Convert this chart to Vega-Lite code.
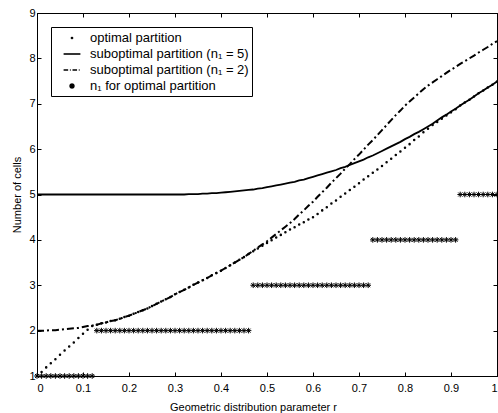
{
  "$schema": "https://vega.github.io/schema/vega-lite/v6.json",
  "width": 460,
  "height": 363,
  "autosize": {"type": "none"},
  "padding": {"left": 37, "top": 13, "right": 1, "bottom": 37},
  "background": "white",
  "config": {
    "view": {"stroke": "black", "strokeWidth": 1},
    "axis": {
      "grid": false,
      "domainColor": "black",
      "tickColor": "black",
      "labelColor": "black",
      "titleColor": "black",
      "labelFont": "Liberation Sans",
      "titleFont": "Liberation Sans",
      "labelFontSize": 11,
      "titleFontSize": 11,
      "titleFontWeight": "normal",
      "tickSize": -4
    },
    "legend": {
      "labelFont": "Liberation Sans",
      "labelFontSize": 13,
      "labelColor": "black"
    }
  },
  "data": {
    "values": [
      {"r": 0.00, "opt": 1.00, "s5": 5.00, "s2": 2.00, "n1": 1},
      {"r": 0.01, "opt": 1.09, "s5": 5.00, "s2": 2.00, "n1": 1},
      {"r": 0.02, "opt": 1.19, "s5": 5.00, "s2": 2.00, "n1": 1},
      {"r": 0.03, "opt": 1.28, "s5": 5.00, "s2": 2.01, "n1": 1},
      {"r": 0.04, "opt": 1.37, "s5": 5.00, "s2": 2.01, "n1": 1},
      {"r": 0.05, "opt": 1.47, "s5": 5.00, "s2": 2.02, "n1": 1},
      {"r": 0.06, "opt": 1.56, "s5": 5.00, "s2": 2.03, "n1": 1},
      {"r": 0.07, "opt": 1.65, "s5": 5.00, "s2": 2.04, "n1": 1},
      {"r": 0.08, "opt": 1.74, "s5": 5.00, "s2": 2.05, "n1": 1},
      {"r": 0.09, "opt": 1.84, "s5": 5.00, "s2": 2.06, "n1": 1},
      {"r": 0.10, "opt": 1.93, "s5": 5.00, "s2": 2.08, "n1": 1},
      {"r": 0.11, "opt": 2.02, "s5": 5.00, "s2": 2.10, "n1": 1},
      {"r": 0.12, "opt": 2.10, "s5": 5.00, "s2": 2.11, "n1": 1},
      {"r": 0.13, "opt": 2.13, "s5": 5.00, "s2": 2.13, "n1": 2},
      {"r": 0.14, "opt": 2.16, "s5": 5.00, "s2": 2.16, "n1": 2},
      {"r": 0.15, "opt": 2.18, "s5": 5.00, "s2": 2.18, "n1": 2},
      {"r": 0.16, "opt": 2.21, "s5": 5.00, "s2": 2.21, "n1": 2},
      {"r": 0.17, "opt": 2.23, "s5": 5.00, "s2": 2.23, "n1": 2},
      {"r": 0.18, "opt": 2.26, "s5": 5.00, "s2": 2.26, "n1": 2},
      {"r": 0.19, "opt": 2.30, "s5": 5.00, "s2": 2.30, "n1": 2},
      {"r": 0.20, "opt": 2.33, "s5": 5.00, "s2": 2.33, "n1": 2},
      {"r": 0.21, "opt": 2.37, "s5": 5.00, "s2": 2.37, "n1": 2},
      {"r": 0.22, "opt": 2.41, "s5": 5.00, "s2": 2.41, "n1": 2},
      {"r": 0.23, "opt": 2.45, "s5": 5.00, "s2": 2.45, "n1": 2},
      {"r": 0.24, "opt": 2.49, "s5": 5.00, "s2": 2.49, "n1": 2},
      {"r": 0.25, "opt": 2.54, "s5": 5.00, "s2": 2.54, "n1": 2},
      {"r": 0.26, "opt": 2.59, "s5": 5.00, "s2": 2.59, "n1": 2},
      {"r": 0.27, "opt": 2.64, "s5": 5.00, "s2": 2.64, "n1": 2},
      {"r": 0.28, "opt": 2.69, "s5": 5.00, "s2": 2.69, "n1": 2},
      {"r": 0.29, "opt": 2.74, "s5": 5.00, "s2": 2.74, "n1": 2},
      {"r": 0.30, "opt": 2.80, "s5": 5.00, "s2": 2.80, "n1": 2},
      {"r": 0.31, "opt": 2.85, "s5": 5.00, "s2": 2.85, "n1": 2},
      {"r": 0.32, "opt": 2.90, "s5": 5.00, "s2": 2.90, "n1": 2},
      {"r": 0.33, "opt": 2.95, "s5": 5.01, "s2": 2.95, "n1": 2},
      {"r": 0.34, "opt": 3.01, "s5": 5.01, "s2": 3.01, "n1": 2},
      {"r": 0.35, "opt": 3.06, "s5": 5.01, "s2": 3.06, "n1": 2},
      {"r": 0.36, "opt": 3.11, "s5": 5.02, "s2": 3.11, "n1": 2},
      {"r": 0.37, "opt": 3.16, "s5": 5.02, "s2": 3.16, "n1": 2},
      {"r": 0.38, "opt": 3.22, "s5": 5.03, "s2": 3.22, "n1": 2},
      {"r": 0.39, "opt": 3.27, "s5": 5.03, "s2": 3.27, "n1": 2},
      {"r": 0.40, "opt": 3.32, "s5": 5.04, "s2": 3.32, "n1": 2},
      {"r": 0.41, "opt": 3.38, "s5": 5.05, "s2": 3.38, "n1": 2},
      {"r": 0.42, "opt": 3.44, "s5": 5.06, "s2": 3.44, "n1": 2},
      {"r": 0.43, "opt": 3.50, "s5": 5.07, "s2": 3.50, "n1": 2},
      {"r": 0.44, "opt": 3.56, "s5": 5.08, "s2": 3.56, "n1": 2},
      {"r": 0.45, "opt": 3.62, "s5": 5.09, "s2": 3.62, "n1": 2},
      {"r": 0.46, "opt": 3.69, "s5": 5.10, "s2": 3.69, "n1": 2},
      {"r": 0.47, "opt": 3.75, "s5": 5.11, "s2": 3.76, "n1": 3},
      {"r": 0.48, "opt": 3.81, "s5": 5.13, "s2": 3.83, "n1": 3},
      {"r": 0.49, "opt": 3.87, "s5": 5.14, "s2": 3.90, "n1": 3},
      {"r": 0.50, "opt": 3.93, "s5": 5.16, "s2": 3.97, "n1": 3},
      {"r": 0.51, "opt": 3.99, "s5": 5.18, "s2": 4.05, "n1": 3},
      {"r": 0.52, "opt": 4.05, "s5": 5.20, "s2": 4.13, "n1": 3},
      {"r": 0.53, "opt": 4.11, "s5": 5.22, "s2": 4.21, "n1": 3},
      {"r": 0.54, "opt": 4.17, "s5": 5.24, "s2": 4.29, "n1": 3},
      {"r": 0.55, "opt": 4.23, "s5": 5.26, "s2": 4.37, "n1": 3},
      {"r": 0.56, "opt": 4.28, "s5": 5.28, "s2": 4.46, "n1": 3},
      {"r": 0.57, "opt": 4.34, "s5": 5.31, "s2": 4.56, "n1": 3},
      {"r": 0.58, "opt": 4.39, "s5": 5.33, "s2": 4.65, "n1": 3},
      {"r": 0.59, "opt": 4.45, "s5": 5.36, "s2": 4.75, "n1": 3},
      {"r": 0.60, "opt": 4.50, "s5": 5.39, "s2": 4.84, "n1": 3},
      {"r": 0.61, "opt": 4.57, "s5": 5.42, "s2": 4.95, "n1": 3},
      {"r": 0.62, "opt": 4.65, "s5": 5.45, "s2": 5.05, "n1": 3},
      {"r": 0.63, "opt": 4.72, "s5": 5.48, "s2": 5.15, "n1": 3},
      {"r": 0.64, "opt": 4.80, "s5": 5.51, "s2": 5.26, "n1": 3},
      {"r": 0.65, "opt": 4.87, "s5": 5.54, "s2": 5.36, "n1": 3},
      {"r": 0.66, "opt": 4.95, "s5": 5.58, "s2": 5.46, "n1": 3},
      {"r": 0.67, "opt": 5.02, "s5": 5.61, "s2": 5.57, "n1": 3},
      {"r": 0.68, "opt": 5.10, "s5": 5.65, "s2": 5.67, "n1": 3},
      {"r": 0.69, "opt": 5.17, "s5": 5.69, "s2": 5.78, "n1": 3},
      {"r": 0.70, "opt": 5.25, "s5": 5.73, "s2": 5.88, "n1": 3},
      {"r": 0.71, "opt": 5.33, "s5": 5.77, "s2": 5.99, "n1": 3},
      {"r": 0.72, "opt": 5.40, "s5": 5.82, "s2": 6.10, "n1": 3},
      {"r": 0.73, "opt": 5.48, "s5": 5.86, "s2": 6.20, "n1": 4},
      {"r": 0.74, "opt": 5.55, "s5": 5.91, "s2": 6.31, "n1": 4},
      {"r": 0.75, "opt": 5.63, "s5": 5.96, "s2": 6.42, "n1": 4},
      {"r": 0.76, "opt": 5.71, "s5": 6.01, "s2": 6.53, "n1": 4},
      {"r": 0.77, "opt": 5.79, "s5": 6.06, "s2": 6.64, "n1": 4},
      {"r": 0.78, "opt": 5.87, "s5": 6.11, "s2": 6.75, "n1": 4},
      {"r": 0.79, "opt": 5.95, "s5": 6.16, "s2": 6.85, "n1": 4},
      {"r": 0.80, "opt": 6.03, "s5": 6.22, "s2": 6.96, "n1": 4},
      {"r": 0.81, "opt": 6.11, "s5": 6.27, "s2": 7.05, "n1": 4},
      {"r": 0.82, "opt": 6.20, "s5": 6.33, "s2": 7.14, "n1": 4},
      {"r": 0.83, "opt": 6.28, "s5": 6.38, "s2": 7.23, "n1": 4},
      {"r": 0.84, "opt": 6.37, "s5": 6.44, "s2": 7.32, "n1": 4},
      {"r": 0.85, "opt": 6.45, "s5": 6.50, "s2": 7.40, "n1": 4},
      {"r": 0.86, "opt": 6.53, "s5": 6.56, "s2": 7.47, "n1": 4},
      {"r": 0.87, "opt": 6.60, "s5": 6.63, "s2": 7.54, "n1": 4},
      {"r": 0.88, "opt": 6.67, "s5": 6.70, "s2": 7.61, "n1": 4},
      {"r": 0.89, "opt": 6.74, "s5": 6.76, "s2": 7.68, "n1": 4},
      {"r": 0.90, "opt": 6.81, "s5": 6.83, "s2": 7.75, "n1": 4},
      {"r": 0.91, "opt": 6.88, "s5": 6.89, "s2": 7.81, "n1": 4},
      {"r": 0.92, "opt": 6.96, "s5": 6.96, "s2": 7.88, "n1": 5},
      {"r": 0.93, "opt": 7.03, "s5": 7.03, "s2": 7.94, "n1": 5},
      {"r": 0.94, "opt": 7.09, "s5": 7.09, "s2": 8.00, "n1": 5},
      {"r": 0.95, "opt": 7.16, "s5": 7.16, "s2": 8.06, "n1": 5},
      {"r": 0.96, "opt": 7.23, "s5": 7.23, "s2": 8.13, "n1": 5},
      {"r": 0.97, "opt": 7.29, "s5": 7.29, "s2": 8.19, "n1": 5},
      {"r": 0.98, "opt": 7.36, "s5": 7.36, "s2": 8.25, "n1": 5},
      {"r": 0.99, "opt": 7.42, "s5": 7.42, "s2": 8.32, "n1": 5},
      {"r": 1.00, "opt": 7.49, "s5": 7.49, "s2": 8.38, "n1": 5}
    ]
  },
  "resolve": {"axis": {"x": "independent", "y": "independent"}},
  "layer": [
    {
      "mark": {"type": "line", "color": "black", "strokeWidth": 1.8},
      "encoding": {
        "x": {"field": "r", "type": "quantitative", "scale": {"domain": [0, 1], "nice": false},
              "axis": {"orient": "bottom", "values": [0, 0.1, 0.2, 0.3, 0.4, 0.5, 0.6, 0.7, 0.8, 0.9, 1], "format": "~g", "labelPadding": 10, "titlePadding": 8, "titleX": 216, "title": "Geometric distribution parameter r"}},
        "y": {"field": "s5", "type": "quantitative", "scale": {"domain": [1, 9], "nice": false, "zero": false},
              "axis": {"orient": "left", "values": [1, 2, 3, 4, 5, 6, 7, 8, 9], "labelPadding": 6, "titlePadding": 6, "title": "Number of cells"}}
      }
    },
    {
      "mark": {"type": "line", "color": "black", "strokeWidth": 2, "strokeDash": [7, 3, 2, 3]},
      "encoding": {
        "x": {"field": "r", "type": "quantitative",
              "axis": {"orient": "top", "values": [0, 0.1, 0.2, 0.3, 0.4, 0.5, 0.6, 0.7, 0.8, 0.9, 1], "labels": false, "title": null}},
        "y": {"field": "s2", "type": "quantitative",
              "axis": {"orient": "right", "values": [1, 2, 3, 4, 5, 6, 7, 8, 9], "labels": false, "title": null}}
      }
    },
    {
      "mark": {"type": "point", "color": "black", "filled": false, "opacity": 1, "size": 196, "strokeWidth": 1.4},
      "encoding": {
        "x": {"field": "r", "type": "quantitative", "axis": null},
        "y": {"field": "opt", "type": "quantitative", "axis": null},
        "shape": {
          "datum": "optimal partition",
          "scale": {
            "domain": ["optimal partition", "suboptimal partition (n₁ = 5)", "suboptimal partition (n₁ = 2)", "n₁ for optimal partition"],
            "range": [
              "M-0.08,0A0.08,0.08,0,1,1,0.08,0A0.08,0.08,0,1,1,-0.08,0Z",
              "M-1.2,0L1.2,0",
              "M-1.2,0L-0.55,0M-0.3,0L-0.18,0M0.07,0L0.72,0M0.97,0L1.09,0",
              "M0,-0.4L0,0.4M-0.4,0L0.4,0M-0.28,-0.28L0.28,0.28M-0.28,0.28L0.28,-0.28"
            ]
          },
          "legend": {
            "title": null,
            "orient": "top-left",
            "offset": 14,
            "strokeColor": "black",
            "fillColor": "white",
            "padding": 3,
            "rowPadding": 1,
            "symbolSize": 196,
            "symbolStrokeColor": "black",
            "symbolFillColor": "transparent",
            "symbolStrokeWidth": 1.6,
            "symbolOffset": 10,
            "labelOffset": 10,
            "labelLimit": 0
          }
        }
      }
    },
    {
      "mark": {"type": "point", "color": "black", "filled": false, "opacity": 1, "size": 196, "strokeWidth": 1},
      "encoding": {
        "x": {"field": "r", "type": "quantitative", "axis": null},
        "y": {"field": "n1", "type": "quantitative", "axis": null},
        "shape": {"datum": "n₁ for optimal partition"}
      }
    }
  ]
}
